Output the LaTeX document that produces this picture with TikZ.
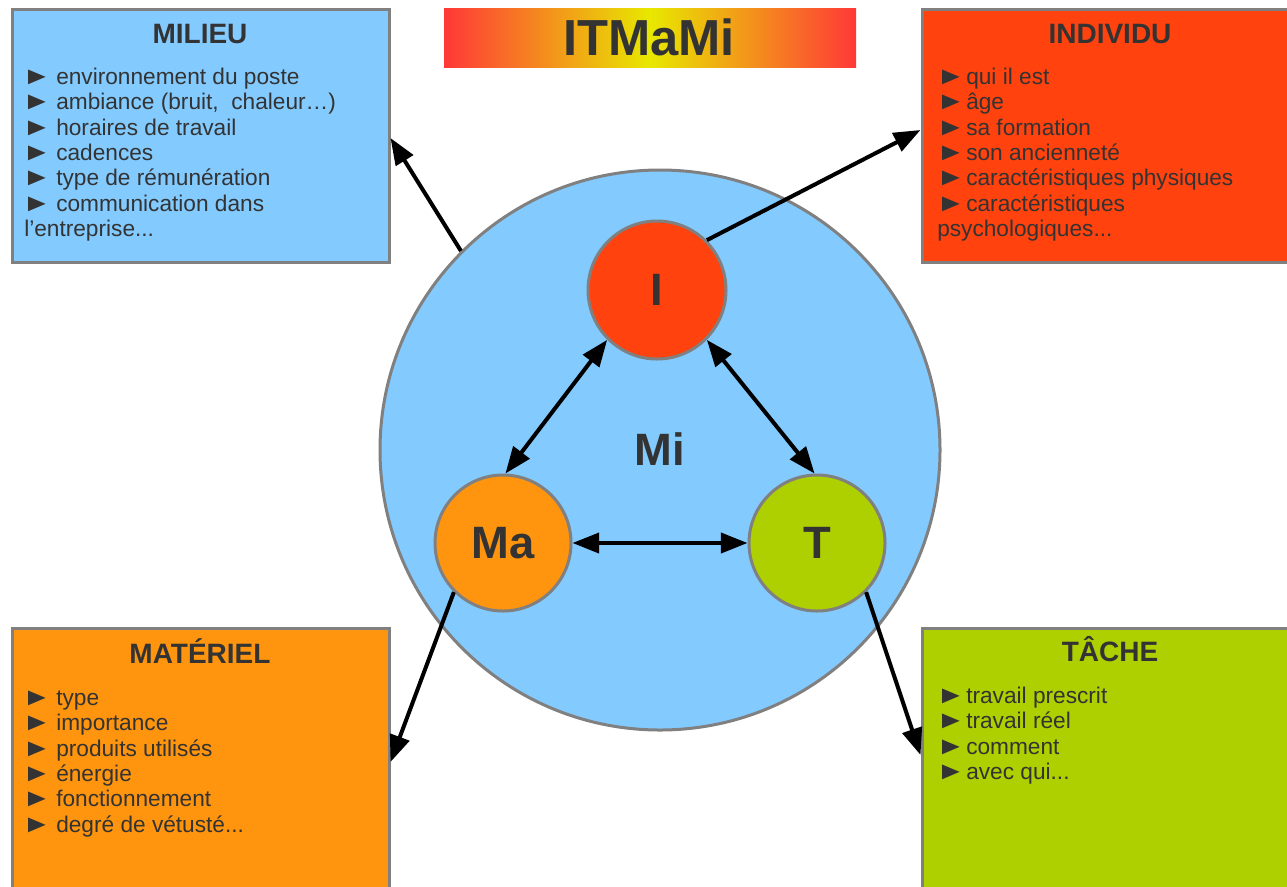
\documentclass[tikz,border=0pt]{standalone}
\usepackage{fontspec}
\usepackage{graphicx}
\setmainfont{Liberation Sans}
\usetikzlibrary{arrows.meta,calc}
\definecolor{bblue}{HTML}{83CAFF}
\definecolor{ired}{HTML}{FF420E}
\definecolor{morange}{HTML}{FF950E}
\definecolor{tgreen}{HTML}{AECF00}
\definecolor{bord}{HTML}{808080}
\definecolor{txt}{HTML}{333333}
\definecolor{tred}{HTML}{FF3838}
\definecolor{tyel}{HTML}{E8E800}
\newcommand{\bulA}{\makebox[25.5pt][l]{\scalebox{1.3}[1.1]{►}}}
\newcommand{\bulB}{\makebox[22.5pt][l]{\scalebox{1.3}[1.1]{►}}}
\begin{document}
\begin{tikzpicture}[x=0.75pt,y=-0.75pt,
  box/.style={draw=bord, line width=2.25pt, rectangle, inner sep=0pt, minimum width=282.75pt},
  head/.style={font=\bfseries\fontsize{21}{25}\selectfont, text=txt, anchor=base, inner sep=0pt},
  lst/.style={font=\fontsize{17}{19.1}\selectfont, text=txt, align=left, anchor=north west, inner sep=0pt},
  circ/.style={circle, draw=bord, line width=2.25pt, inner sep=0pt, text=txt, font=\bfseries\fontsize{34}{40}\selectfont},
  arr/.style={line width=3pt, -{Triangle[length=20pt,width=15pt]}},
  dbl/.style={line width=3pt, {Triangle[length=20pt,width=15pt]}-{Triangle[length=20pt,width=15pt]}}]
\useasboundingbox (0,0) rectangle (1287,886);

% boxes
\node[box, fill=bblue, minimum height=189.75pt] (milieu) at (200.5,135.5) {};
\node[box, fill=ired, minimum height=189.75pt] (indiv) at (1110.5,135.5) {};
\node[box, fill=morange, minimum height=200pt] (mat) at (200.5,762) {};
\node[box, fill=tgreen, minimum height=200pt] (tache) at (1110.5,762) {};

% title
\node[left color=tred, right color=tred, middle color=tyel, minimum width=309pt, minimum height=44.25pt, inner sep=0pt] (titlebox) at (650,37.5) {};
\node[font=\bfseries\fontsize{38}{44}\selectfont, text=txt, anchor=base, inner sep=0pt] (title) at (649,55) {ITMaMi};

% headings
\node[head] (h1) at (200,43) {MILIEU};
\node[head] (h2) at (1110,43) {INDIVIDU};
\node[head] (h3) at (200,663) {MATÉRIEL};
\node[head] (h4) at (1110,661.5) {TÂCHE};

% lists
\node[lst] (l1) at (22,66) {\strut\bulA environnement du poste\\\bulA ambiance (bruit,\ \ chaleur…)\\\bulA horaires de travail\\\bulA cadences\\\bulA type de rémunération\\\bulA communication dans\\\hspace*{1.5pt}l’entreprise...};
\node[lst] (l2) at (936,66) {\strut\bulB qui il est\\\bulB âge\\\bulB sa formation\\\bulB son ancienneté\\\bulB caractéristiques physiques\\\bulB caractéristiques\\\hspace*{0.75pt}psychologiques...};
\node[lst] (l3) at (22,687) {\strut\bulA type\\\bulA importance\\\bulA produits utilisés\\\bulA énergie\\\bulA fonctionnement\\\bulA degré de vétusté...};
\node[lst] (l4) at (936,685) {\strut\bulB travail prescrit\\\bulB travail réel\\\bulB comment\\\bulB avec qui...};

% circles
\node[circ, fill=bblue, minimum size=420pt] (mi) at (660,450) {};
\node[text=txt, font=\bfseries\fontsize{34}{40}\selectfont, inner sep=0pt] (milbl) at (660,449) {Mi};
\node[circ, fill=ired, minimum size=103.5pt] (i) at (657,290) {I};
\node[circ, fill=morange, minimum size=102pt] (ma) at (503,543) {Ma};
\node[circ, fill=tgreen, minimum size=102pt] (t) at (817,543) {T};

% connectors
\draw[arr] (mi.135) -- ($(milieu.east)+(0,2.5)$);
\draw[arr] (i.45) -- ($(indiv.west)+(0,-5.5)$);
\draw[arr] (ma.225) -- (mat.east);
\draw[arr] (t.315) -- ($(tache.west)+(0,-7)$);
\draw[dbl] (i.225) -- (ma.88);
\draw[dbl] (i.315) -- (t.92);
\draw[dbl] (ma.east) -- (t.west);
\end{tikzpicture}
\end{document}
